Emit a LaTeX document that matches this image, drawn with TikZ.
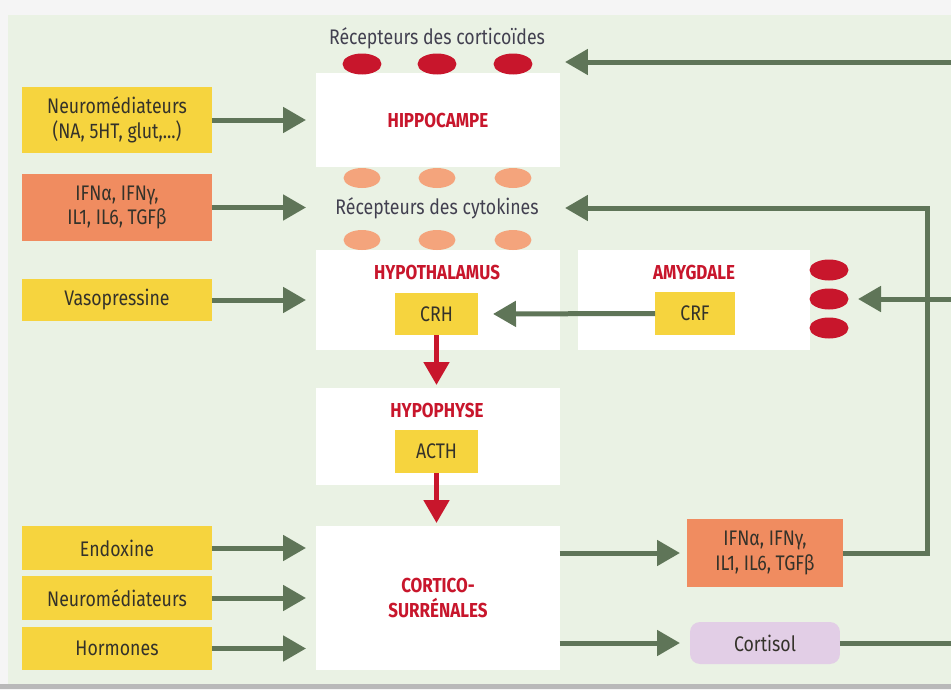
\documentclass[tikz,border=0pt]{standalone}
\usepackage{fontspec}
\setmainfont{Fira Sans}[FakeStretch=0.84]
\usetikzlibrary{arrows.meta,shapes.geometric,calc}
\definecolor{bgc}{RGB}{234,242,228}
\definecolor{yel}{RGB}{246,212,62}
\definecolor{ora}{RGB}{240,140,96}
\definecolor{oraell}{RGB}{244,164,124}
\definecolor{redc}{RGB}{200,22,44}
\definecolor{arr}{RGB}{95,117,88}
\definecolor{lav}{RGB}{226,206,230}
\definecolor{txt}{RGB}{52,50,42}
\definecolor{lbl}{RGB}{66,64,80}
\tikzset{
  boxtxt/.style={font=\fontsize{12}{14}\selectfont, text=txt, align=center, inner sep=0pt, outer sep=0pt},
  yelbox/.style={boxtxt, fill=yel, minimum width=3.8cm},
  orabox/.style={boxtxt, fill=ora},
  whitebox/.style={fill=white, inner sep=0pt, outer sep=0pt, minimum width=4.88cm},
  organ/.style={font=\bfseries\fontsize{11.5}{14}\selectfont, text=redc, align=center, inner sep=0pt},
  small/.style={boxtxt, fill=yel, minimum width=1.66cm, minimum height=0.85cm},
  lab/.style={font=\fontsize{12}{14}\selectfont, text=lbl, inner sep=0pt},
  redell/.style={ellipse, fill=redc, minimum width=0.78cm, minimum height=0.42cm, inner sep=0pt},
  oraellip/.style={ellipse, fill=oraell, minimum width=0.74cm, minimum height=0.4cm, inner sep=0pt},
  garrow/.style={draw=arr, line width=0.1cm, line join=miter, -{Triangle[length=0.46cm,width=0.5cm]}},
  gline/.style={draw=arr, line width=0.1cm, line join=miter},
  rarrow/.style={draw=redc, line width=0.1cm, -{Triangle[length=0.46cm,width=0.5cm]}}
}
\begin{document}
\begin{tikzpicture}[x=0.02cm,y=-0.02cm]
\useasboundingbox (0,0) rectangle (951,690);
\fill[gray!8] (0,0) rectangle (951,690);
\fill[bgc] (8,15) rectangle (951,684);
\fill[gray!55] (0,684) rectangle (951,689);

% labels
\node[lab] (reccort) at (437,38) {Récepteurs des corticoïdes};
\node[lab] (reccyto) at (437,208) {Récepteurs des cytokines};

% white organ boxes
\node[whitebox, minimum height=1.88cm] (hippo) at (438,120) {};
\node[organ] (hippot) at (438,120) {HIPPOCAMPE};
\node[whitebox, minimum height=2.0cm] (hypoth) at (438,300) {};
\node[organ] (hypotht) at (437,272) {HYPOTHALAMUS};
\node[small] (crh) at (436.5,314) {CRH};
\node[whitebox, minimum width=4.64cm, minimum height=2.0cm] (amyg) at (694,300) {};
\node[organ] (amygt) at (694,272) {AMYGDALE};
\node[small, minimum width=1.6cm, minimum height=0.86cm] (crf) at (695,313.5) {CRF};
\node[whitebox, minimum height=1.94cm] (hypoph) at (438,436.5) {};
\node[organ] (hypopht) at (437,410) {HYPOPHYSE};
\node[small, minimum height=0.86cm] (acth) at (436.5,451.5) {ACTH};
\node[whitebox, minimum height=2.88cm, organ] (cortico) at (438,598) {CORTICO-\\SURRÉNALES};

% receptors
\foreach \i/\x in {1/362,2/437,3/513}{
  \node[redell] (rc\i) at (\x,64) {};
  \node[oraellip] (ot\i) at (\x,178) {};
  \node[oraellip] (ob\i) at (\x,240) {};
}
\foreach \i/\y in {1/270,2/299,3/328}{
  \node[redell] (ra\i) at (829,\y) {};
}

% left inputs
\node[yelbox, minimum height=1.32cm] (neuro1) at (117,120) {Neuromédiateurs\\(NA, 5HT, glut,...)};
\node[orabox, minimum width=3.8cm, minimum height=1.34cm] (ifn1) at (117,207.5) {IFNα, IFNγ,\\IL1, IL6, TGFβ};
\node[yelbox, minimum height=0.84cm] (vaso) at (117,300) {Vasopressine};
\node[yelbox, minimum height=0.88cm] (endo) at (117,548) {Endoxine};
\node[yelbox, minimum height=0.88cm] (neuro2) at (117,598) {Neuromédiateurs};
\node[yelbox, minimum height=0.86cm] (horm) at (117,648.5) {Hormones};

% right outputs
\node[orabox, minimum width=3.12cm, minimum height=1.36cm] (ifn2) at (765,553) {IFNα, IFNγ,\\IL1, IL6, TGFβ};
\node[boxtxt, fill=lav, rounded corners=0.2cm, minimum width=3.0cm, minimum height=0.84cm] (cortisol) at (765,643) {Cortisol};

% coordinates
\coordinate (topR) at (951,62);
\coordinate (topL) at (565,62);
\coordinate (fbc) at (927,208);
\coordinate (cytoR) at (565,208);
\coordinate (amR) at (951,299);
\coordinate (amL) at (858,299);
\coordinate (cortR) at (951,643);

% green arrows
\draw[garrow, shorten >=0.2cm] (neuro1.east) -- (neuro1.east -| hippo.west);
\draw[garrow, shorten >=0.2cm] (ifn1.east) -- (ifn1.east -| hippo.west);
\draw[garrow, shorten >=0.2cm] (vaso.east) -- (vaso.east -| hypoth.west);
\draw[garrow, shorten >=0.2cm] (endo.east) -- (endo.east -| cortico.west);
\draw[garrow, shorten >=0.2cm] (neuro2.east) -- (neuro2.east -| cortico.west);
\draw[garrow, shorten >=0.2cm] (horm.east) -- (horm.east -| cortico.west);
\draw[garrow] (topR) -- (topL);
\draw[garrow] (ifn2.east) -| (fbc) -- (cytoR);
\draw[garrow] (amR) -- (amL);
\draw[garrow, shorten >=0.3cm] (crf.west) -- (crh.east);
\draw[garrow, shorten >=0.14cm] (cortico.east |- ifn2.west) -- (ifn2.west);
\draw[garrow, shorten >=0.2cm] (cortico.east |- cortisol.west) -- (cortisol.west);
\draw[gline] (cortisol.east) -- (cortR);

% red arrows
\draw[rarrow, shorten >=0.06cm] (crh.south) -- (hypoph.north -| crh.south);
\draw[rarrow, shorten >=0.06cm] (acth.south) -- (cortico.north -| acth.south);
\end{tikzpicture}
\end{document}
